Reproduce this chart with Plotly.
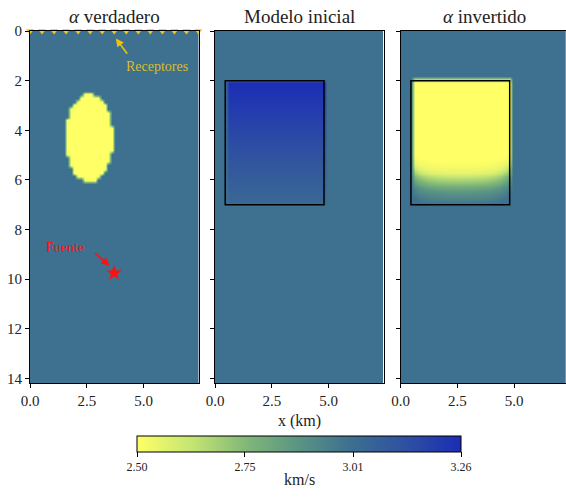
import numpy as np
import plotly.graph_objects as go

# ---- model geometry (km) ----
X_MAX = 7.42
Z_MAX = 14.18
DX = 0.15

V_BACKGROUND = 3.0
V_ANOMALY = 2.5
ANOMALY_CENTER = [2.6, 4.3]
ANOMALY_SEMI_AXES = [1.05, 1.8]

BOX_X = [0.45, 4.8]
BOX_Z = [2.0, 7.0]

# initial model: velocity profile down the inversion box
init_depths = [2.0, 7.0]
init_values = [3.26, 3.03]

# inverted model: velocity profile down the middle of the box
inv_depths = [1.85, 2.0, 5.3, 5.7, 6.1, 6.5, 6.9, 7.1]
inv_values = [3.0, 2.5, 2.5, 2.55, 2.72, 2.88, 2.97, 3.0]
INV_EDGE_LIFT = 0.45  # how much the fade rises towards the box sides

# acquisition
n_receivers = 15
receiver_depth = 0.0
source_x = [3.7]
source_z = [9.75]

# colour scale
V_MIN, V_MAX = 2.5, 3.26
cbar_vals = [2.5, 2.7533, 3.0067, 3.26]
cbar_text = ["2.50", "2.75", "3.01", "3.26"]
colorscale = [
    [0.0, "#ffff66"],
    [0.17, "#c4e573"],
    [0.333, "#82b878"],
    [0.5, "#5a9484"],
    [0.667, "#3c6e90"],
    [0.83, "#2f50a2"],
    [1.0, "#1b2db6"],
]

# ---- build the grids ----
xs = np.arange(0.0, X_MAX + DX, DX)
zs = np.arange(0.0, Z_MAX + DX, DX)
XX, ZZ = np.meshgrid(xs, zs)

true_model = np.full(XX.shape, V_BACKGROUND)
ell = ((XX - ANOMALY_CENTER[0]) / ANOMALY_SEMI_AXES[0]) ** 2 + \
      ((ZZ - ANOMALY_CENTER[1]) / ANOMALY_SEMI_AXES[1]) ** 2
true_model[ell <= 1.0] = V_ANOMALY

in_box = (XX >= BOX_X[0]) & (XX <= BOX_X[1]) & (ZZ >= BOX_Z[0]) & (ZZ <= BOX_Z[1])
init_model = np.full(XX.shape, V_BACKGROUND)
init_model[in_box] = np.interp(ZZ[in_box], init_depths, init_values)

in_box_inv = (XX >= BOX_X[0]) & (XX <= BOX_X[1]) & (ZZ >= inv_depths[0]) & (ZZ <= BOX_Z[1])
side_dist = np.minimum(XX - BOX_X[0], BOX_X[1] - XX)
lift = INV_EDGE_LIFT * np.exp(-np.clip(side_dist, 0, None) / 0.45)
z_eff = np.where(ZZ > 4.0, ZZ + lift, ZZ)
inv_model = np.full(XX.shape, V_BACKGROUND)
inv_model[in_box_inv] = np.interp(z_eff[in_box_inv], inv_depths, inv_values)

# ---- figure ----
W, H = 566, 498
ML, MR, MT, MB = 30, 0, 31, 115
plot_w = W - ML - MR
plot_h = H - MT - MB
px_per_km = 168.5 / X_MAX

def dom(left_px, width_px):
    return [left_px / plot_w, min(1.0, (left_px + width_px) / plot_w)]

panel_left = [0.0, 185.0, 370.7]
panel_width = [168.5, 168.5, plot_w - 370.7]

fig = go.Figure()
titles = ["<i>α</i> verdadero", "Modelo inicial", "<i>α</i> invertido"]
models = [true_model, init_model, inv_model]

font_family = "Liberation Serif, DejaVu Serif, serif"

for i, (mdl, title) in enumerate(zip(models, titles)):
    sfx = "" if i == 0 else str(i + 1)
    fig.add_trace(go.Heatmap(
        x=xs, y=zs, z=mdl, coloraxis="coloraxis", zsmooth="best",
        xaxis="x" + sfx, yaxis="y" + sfx, hoverinfo="skip",
    ))
    ax_common = dict(
        showline=True, linecolor="black", linewidth=1, mirror=True,
        ticks="outside", ticklen=4, tickwidth=1, tickcolor="black",
        showgrid=False, zeroline=False,
        tickfont=dict(size=15, color="#222", family=font_family),
    )
    fig.update_layout(**{
        "xaxis" + sfx: dict(
            ax_common, domain=dom(panel_left[i], panel_width[i]),
            range=[0, panel_width[i] / px_per_km],
            tickvals=[0, 2.5, 5.0], ticktext=["0.0", "2.5", "5.0"],
            anchor="y" + sfx,
        ),
        "yaxis" + sfx: dict(
            ax_common, range=[Z_MAX, 0], anchor="x" + sfx,
            tickvals=list(range(0, 15, 2)),
            showticklabels=(i == 0),
        ),
    })
    fig.add_annotation(
        text=title, xref="x" + sfx + " domain", yref="paper",
        x=(168.5 / 2) / panel_width[i] if i == 2 else 0.5, y=1.0,
        yanchor="bottom", xanchor="center", yshift=2, showarrow=False,
        font=dict(size=19, color="#222", family=font_family),
    )

# inversion box outlines
for sfx in ["2", "3"]:
    fig.add_shape(type="rect", xref="x" + sfx, yref="y" + sfx,
                  x0=BOX_X[0], x1=BOX_X[1], y0=BOX_Z[0], y1=BOX_Z[1],
                  line=dict(color="black", width=1.5))

# receivers along the surface
rec_x = np.linspace(0.0, X_MAX, n_receivers)
fig.add_trace(go.Scatter(
    x=rec_x, y=[receiver_depth] * n_receivers, mode="markers",
    marker=dict(symbol="triangle-down", size=7, color="#f5c90f"),
    cliponaxis=False, xaxis="x", yaxis="y", hoverinfo="skip", showlegend=False,
))
# source
fig.add_trace(go.Scatter(
    x=source_x, y=source_z, mode="markers",
    marker=dict(symbol="star", size=12, color="#ff1010"),
    xaxis="x", yaxis="y", hoverinfo="skip", showlegend=False,
))

# labels with pointer arrows
fig.add_annotation(
    text="Receptores", x=5.6, y=1.45, xref="x", yref="y", showarrow=False,
    font=dict(size=14, color="#dcbc2a", family=font_family),
)
fig.add_annotation(
    text="", x=3.78, y=0.3, ax=4.33, ay=0.98, axref="x", ayref="y",
    xref="x", yref="y", showarrow=True, arrowhead=2, arrowsize=1, arrowwidth=1.6,
    arrowcolor="#f0c20a",
)
fig.add_annotation(
    text="Fuente", x=1.55, y=8.72, xref="x", yref="y", showarrow=False,
    font=dict(size=14, color="#ff1010", family=font_family),
)
fig.add_annotation(
    text="", x=3.5, y=9.45, ax=2.8, ay=8.9, axref="x", ayref="y",
    xref="x", yref="y", showarrow=True, arrowhead=2, arrowsize=1, arrowwidth=1.6,
    arrowcolor="#ff1010",
)

# x-axis label under the middle panel
fig.add_annotation(
    text="x (km)", xref="x2 domain", yref="paper", x=0.5, y=0,
    yshift=-27, yanchor="top", showarrow=False,
    font=dict(size=16, color="#222", family=font_family),
)
# colour bar unit label
fig.add_annotation(
    text="km/s", xref="paper", yref="paper", x=(299 - ML) / plot_w,
    y=-(479 - (MT + plot_h)) / plot_h, yanchor="middle", showarrow=False,
    font=dict(size=16, color="#222", family=font_family),
)

fig.update_layout(
    width=W, height=H,
    margin=dict(l=ML, r=MR, t=MT, b=MB, pad=0),
    paper_bgcolor="white", plot_bgcolor="white",
    showlegend=False,
    coloraxis=dict(
        cmin=V_MIN, cmax=V_MAX, colorscale=colorscale,
        colorbar=dict(
            orientation="h", x=(299 - ML) / plot_w, xanchor="center",
            y=-(436 - (MT + plot_h)) / plot_h, yanchor="top",
            len=324, lenmode="pixels", thickness=16, thicknessmode="pixels",
            xpad=0, ypad=0, outlinecolor="black", outlinewidth=1,
            tickvals=cbar_vals, ticktext=cbar_text,
            ticks="outside", ticklen=5, tickcolor="black",
            tickfont=dict(size=12, color="#222", family=font_family),
        ),
    ),
)

fig.write_html("out.html")
